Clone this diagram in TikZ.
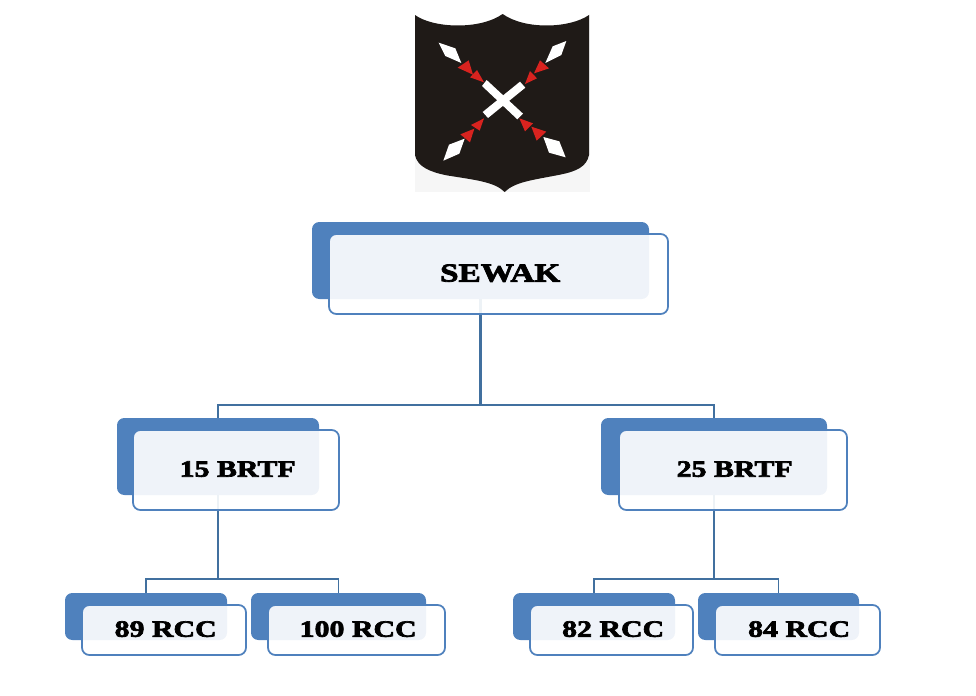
\documentclass[tikz,border=0pt]{standalone}
\usepackage{fontspec}
\setmainfont[FakeStretch=1.28,FakeBold=3]{Liberation Serif Bold}
\definecolor{boxblue}{HTML}{4F81BD}
\definecolor{linkblue}{HTML}{41709F}
\definecolor{shieldblack}{HTML}{1F1A17}
\definecolor{shieldred}{HTML}{D8231F}
\definecolor{shieldbg}{HTML}{F6F6F6}
\tikzset{
  boxsize/.style 2 args={minimum width=#1*0.75pt,minimum height=#2*0.75pt},
  backbox/.style={rectangle,rounded corners=5.5pt,fill=boxblue,inner sep=0pt},
  frontbox/.style={rectangle,rounded corners=5.5pt,draw=boxblue,line width=1.3pt,fill=white,fill opacity=0.91,text opacity=1,inner sep=0pt,text=black,text depth=1.5pt,font=\fontsize{17.5pt}{20pt}\selectfont,execute at begin node=\kern2.5pt},
  link/.style={draw=linkblue,line width=1.2pt},
  trunk/.style={draw=linkblue,line width=1.9pt},
  spear/.style={fill=white},
  barb/.style={fill=shieldred}
}
\begin{document}
\begin{tikzpicture}[x=0.75pt,y=-0.75pt]
\useasboundingbox (0,0) rectangle (976,696);
% emblem
\fill[shieldbg] (415,14) rectangle (590,192);
\begin{scope}[shift={(400,0)},x=0.25pt,y=-0.25pt]
\fill[white] (45,42) rectangle (567,110);
\fill[shieldblack] (45,45) .. controls (100,85) and (240,90) .. (308,42)
  .. controls (375,90) and (510,85) .. (567,45) -- (567,465)
  .. controls (560,500) and (530,514) .. (480,524)
  .. controls (400,540) and (345,545) .. (314,576)
  .. controls (283,545) and (225,540) .. (140,526)
  .. controls (90,516) and (52,500) .. (45,465) -- cycle;
\fill[white] (260,240) -- (369,341) -- (352,358) -- (246,258) -- cycle;
\fill[white] (360,245) -- (376,263) -- (264,354) -- (248,336) -- cycle;
\fill[spear] (116,128) -- (166,145) -- (184,189) -- (136,168) -- cycle;
\fill[spear] (499,123) -- (458,139) -- (436,189) -- (484,165) -- cycle;
\fill[spear] (130,482) -- (147,434) -- (194,416) -- (178,461) -- cycle;
\fill[spear] (497,472) -- (478,424) -- (430,411) -- (447,458) -- cycle;
\fill[barb] (206,181) -- (219,224) -- (173,203) -- cycle;
\fill[barb] (231,210) -- (252,247) -- (210,232) -- cycle;
\fill[barb] (447,205) -- (402,220) -- (420,181) -- cycle;
\fill[barb] (411,235) -- (375,252) -- (390,213) -- cycle;
\fill[barb] (223,386) -- (210,427) -- (181,403) -- cycle;
\fill[barb] (252,355) -- (239,392) -- (213,375) -- cycle;
\fill[barb] (439,395) -- (410,422) -- (394,380) -- cycle;
\fill[barb] (399,370) -- (375,394) -- (358,355) -- cycle;
\end{scope}
% back boxes
\node[backbox,boxsize={337}{77}] (sewakB) at (480.5,260.5) {};
\node[backbox,boxsize={202}{77}] (brtfaB) at (218,456.5) {};
\node[backbox,boxsize={226}{77}] (brtfbB) at (714,456.5) {};
\node[backbox,boxsize={162}{47}] (rccaB) at (146,616.5) {};
\node[backbox,boxsize={175}{47}] (rccbB) at (338.5,616.5) {};
\node[backbox,boxsize={162}{47}] (rcccB) at (594,616.5) {};
\node[backbox,boxsize={161}{47}] (rccdB) at (778.5,616.5) {};
% connectors
\coordinate (busTop) at (480.5,405);
\coordinate (busLeft) at (218,579);
\coordinate (busRight) at (714,579);
\draw[trunk] (sewakB.south) -- (busTop);
\draw[link] (busTop) -| (brtfaB.north);
\draw[link] (busTop) -| (brtfbB.north);
\draw[trunk] (brtfaB.south) -- (busLeft);
\draw[trunk] (brtfbB.south) -- (busRight);
\draw[link] (busLeft) -| (rccaB.north);
\draw[link] (busLeft) -| (rccbB.north);
\draw[link] (busRight) -| (rcccB.north);
\draw[link] (busRight) -| (rccdB.north);
% front boxes
\node[frontbox,boxsize={339}{80},font=\fontsize{19.5pt}{22pt}\selectfont] (sewak) at (498.5,274) {SEWAK};
\node[frontbox,boxsize={206}{80}] (brtfa) at (236,470) {15 BRTF};
\node[frontbox,boxsize={228}{80}] (brtfb) at (733,470) {25 BRTF};
\node[frontbox,boxsize={164}{50}] (rcca) at (164,630) {89 RCC};
\node[frontbox,boxsize={177}{50}] (rccb) at (356.5,630) {100 RCC};
\node[frontbox,boxsize={163}{50}] (rccc) at (611.5,630) {82 RCC};
\node[frontbox,boxsize={165}{50}] (rccd) at (797.5,630) {84 RCC};
\end{tikzpicture}
\end{document}
